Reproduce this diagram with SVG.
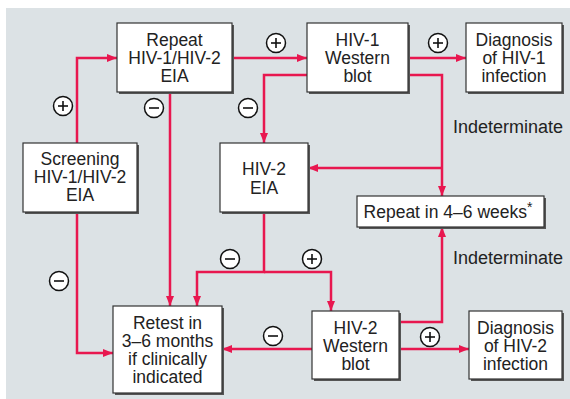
<svg xmlns="http://www.w3.org/2000/svg" width="570" height="399" viewBox="0 0 570 399">
<style>
.box{fill:#fff;stroke:#333;stroke-width:1.2}
.sh{fill:#555}
.t{font-family:"Liberation Sans",Arial,sans-serif;font-size:17.5px;fill:#222;text-anchor:middle}
.l{font-family:"Liberation Sans",Arial,sans-serif;font-size:18px;fill:#222}
.c{stroke:#e8174f;stroke-width:2.5;fill:none}
.sg circle{fill:#fff;stroke:#111;stroke-width:1.5}
.sg line{stroke:#111;stroke-width:1.6}
</style>
<defs>
<marker id="a" viewBox="0 0 10 8" refX="10" refY="4" markerWidth="10" markerHeight="8" markerUnits="userSpaceOnUse" orient="auto">
<path d="M0,0 L10,4 L0,8 Z" fill="#e8174f"/>
</marker>
</defs>
<rect x="6" y="8" width="564" height="391" fill="#dce2e5"/>
<g id="connectors">
<path class="c" d="M77,143 V58 H117" marker-end="url(#a)"/>
<path class="c" d="M77,212 V353 H113" marker-end="url(#a)"/>
<path class="c" d="M170,92 V306" marker-end="url(#a)"/>
<path class="c" d="M232,58 H307" marker-end="url(#a)"/>
<path class="c" d="M307,75 H264 V143" marker-end="url(#a)"/>
<path class="c" d="M408,58 H466" marker-end="url(#a)"/>
<path class="c" d="M408,75 H442 V196" marker-end="url(#a)"/>
<path class="c" d="M442,168 H308" marker-end="url(#a)"/>
<path class="c" d="M264,212 V272 H197 V306" marker-end="url(#a)"/>
<path class="c" d="M264,272 H331 V311" marker-end="url(#a)"/>
<path class="c" d="M312,349 H222" marker-end="url(#a)"/>
<path class="c" d="M399,322 H442 V227" marker-end="url(#a)"/>
<path class="c" d="M399,349 H469" marker-end="url(#a)"/>
</g>
<g id="signs" class="sg">
<g><circle cx="63" cy="106" r="9.5"/><line x1="58" y1="106" x2="68" y2="106"/><line x1="63" y1="101" x2="63" y2="111"/></g>
<g><circle cx="154" cy="108" r="9.5"/><line x1="149" y1="108" x2="159" y2="108"/></g>
<g><circle cx="276" cy="43" r="9.5"/><line x1="271" y1="43" x2="281" y2="43"/><line x1="276" y1="38" x2="276" y2="48"/></g>
<g><circle cx="248" cy="108" r="9.5"/><line x1="243" y1="108" x2="253" y2="108"/></g>
<g><circle cx="438" cy="43" r="9.5"/><line x1="433" y1="43" x2="443" y2="43"/><line x1="438" y1="38" x2="438" y2="48"/></g>
<g><circle cx="59" cy="281" r="9.5"/><line x1="54" y1="281" x2="64" y2="281"/></g>
<g><circle cx="230" cy="259" r="9.5"/><line x1="225" y1="259" x2="235" y2="259"/></g>
<g><circle cx="312" cy="259" r="9.5"/><line x1="307" y1="259" x2="317" y2="259"/><line x1="312" y1="254" x2="312" y2="264"/></g>
<g><circle cx="273" cy="336" r="9.5"/><line x1="268" y1="336" x2="278" y2="336"/></g>
<g><circle cx="430" cy="337" r="9.5"/><line x1="425" y1="337" x2="435" y2="337"/><line x1="430" y1="332" x2="430" y2="342"/></g>
</g>
<text class="l" x="453" y="133">Indeterminate</text>
<text class="l" x="453" y="264">Indeterminate</text>
<g id="repeat">
<rect class="sh" x="119" y="25" width="115" height="69"/>
<rect class="box" x="117" y="23" width="115" height="69"/>
<text class="t" x="174.5" y="46">Repeat</text>
<text class="t" x="174.5" y="64">HIV-1/HIV-2</text>
<text class="t" x="174.5" y="82">EIA</text>
</g>
<g id="wb1">
<rect class="sh" x="309" y="25" width="101" height="69"/>
<rect class="box" x="307" y="23" width="101" height="69"/>
<text class="t" x="357.5" y="46">HIV-1</text>
<text class="t" x="357.5" y="64">Western</text>
<text class="t" x="357.5" y="82">blot</text>
</g>
<g id="diag1">
<rect class="sh" x="468" y="25" width="96" height="69"/>
<rect class="box" x="466" y="23" width="96" height="69"/>
<text class="t" x="514" y="46">Diagnosis</text>
<text class="t" x="514" y="64">of HIV-1</text>
<text class="t" x="514" y="82">infection</text>
</g>
<g id="screening">
<rect class="sh" x="25" y="145" width="114" height="69"/>
<rect class="box" x="23" y="143" width="114" height="69"/>
<text class="t" x="80" y="165">Screening</text>
<text class="t" x="80" y="183">HIV-1/HIV-2</text>
<text class="t" x="80" y="201">EIA</text>
</g>
<g id="eia2">
<rect class="sh" x="222" y="145" width="88" height="69"/>
<rect class="box" x="220" y="143" width="88" height="69"/>
<text class="t" x="264" y="175">HIV-2</text>
<text class="t" x="264" y="194">EIA</text>
</g>
<g id="repeat46">
<rect class="sh" x="359" y="198" width="187" height="31"/>
<rect class="box" x="357" y="196" width="187" height="31"/>
<text class="t" x="448" y="218">Repeat in 4–6 weeks<tspan font-size="14" dy="-6">*</tspan></text>
</g>
<g id="retest">
<rect class="sh" x="115" y="308" width="109" height="87"/>
<rect class="box" x="113" y="306" width="109" height="87"/>
<text class="t" x="167.5" y="329">Retest in</text>
<text class="t" x="167.5" y="347">3–6 months</text>
<text class="t" x="167.5" y="365">if clinically</text>
<text class="t" x="167.5" y="383">indicated</text>
</g>
<g id="wb2">
<rect class="sh" x="314" y="313" width="87" height="68"/>
<rect class="box" x="312" y="311" width="87" height="68"/>
<text class="t" x="355.5" y="334">HIV-2</text>
<text class="t" x="355.5" y="352">Western</text>
<text class="t" x="355.5" y="370">blot</text>
</g>
<g id="diag2">
<rect class="sh" x="471" y="313" width="93" height="68"/>
<rect class="box" x="469" y="311" width="93" height="68"/>
<text class="t" x="515.5" y="334">Diagnosis</text>
<text class="t" x="515.5" y="352">of HIV-2</text>
<text class="t" x="515.5" y="370">infection</text>
</g>
</svg>
